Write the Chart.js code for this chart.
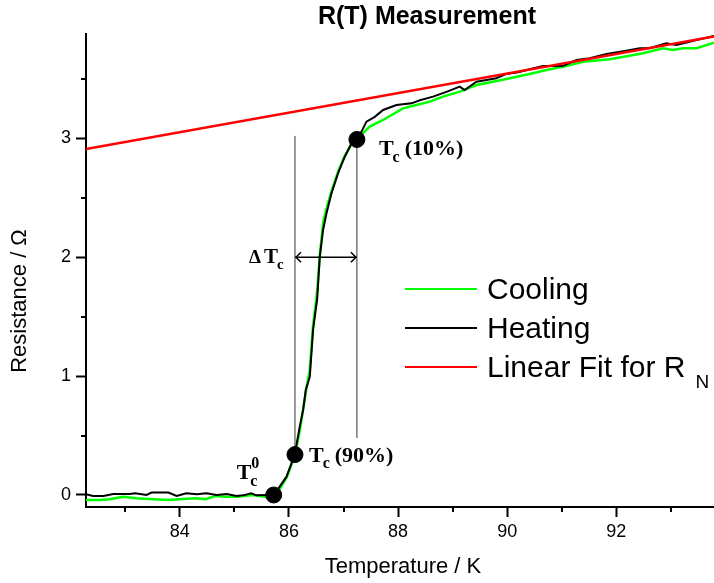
<!DOCTYPE html>
<html>
<head>
<meta charset="utf-8">
<script src="https://cdn.jsdelivr.net/npm/chart.js@4.4.0/dist/chart.umd.min.js"></script>
<style>
  html, body { margin: 0; padding: 0; background: #fff; }
</style>
</head>
<body>
<canvas id="chart" width="714" height="583"></canvas>
<script>
// values (temperature in K, resistance in Ohm)
const heatingT = [82.28, 82.41, 82.6, 82.78, 83.08, 83.18, 83.39, 83.48, 83.79, 83.94, 84.12, 84.31, 84.49, 84.67, 84.86, 85.04, 85.16, 85.31, 85.4, 85.59, 85.72,
  85.83, 85.955, 86.107, 86.186, 86.259, 86.308, 86.382, 86.442, 86.49, 86.516, 86.565, 86.625, 86.688, 86.779, 86.9, 87.023, 87.146, 87.237,
  87.33, 87.42, 87.573, 87.725, 87.97, 88.245, 88.4, 88.64, 88.886, 89.13, 89.22, 89.436, 89.62, 89.8, 89.986, 90.2, 90.41, 90.656, 91.02,
  91.27, 91.51, 91.82, 92.18, 92.43, 92.61, 92.917, 93.1, 93.47, 93.79];
const heatingR = [0.006, -0.008, -0.008, 0.008, 0.008, 0.014, 0, 0.02, 0.02, -0.008, 0.014, 0.006, 0.014, 0, 0.008, -0.008, -0.003, 0.014, -0.003, 0, 0,
  0.07, 0.154, 0.342, 0.547, 0.715, 0.883, 0.995, 1.388, 1.556, 1.64, 2.004, 2.229, 2.369, 2.537, 2.706, 2.845, 2.958, 2.986,
  3.056, 3.14, 3.18, 3.238, 3.28, 3.294, 3.32, 3.35, 3.39, 3.434, 3.406, 3.476, 3.49, 3.505, 3.541, 3.555, 3.58, 3.608, 3.608,
  3.659, 3.673, 3.709, 3.737, 3.757, 3.757, 3.799, 3.785, 3.827, 3.86];

const coolingT = [82.28, 82.53, 82.71, 82.96, 83.2, 83.5, 83.8, 83.98, 84.29, 84.47, 84.65, 84.83, 85.08, 85.32, 85.56, 85.72,
  85.82, 85.96, 86.1, 86.19, 86.26, 86.32, 86.38, 86.44, 86.51, 86.57, 86.63, 86.7, 86.79, 86.9, 87.02, 87.15, 87.25,
  87.33, 87.48, 87.725, 88.09, 88.336, 88.58, 88.824, 89.13, 89.436, 89.74, 90.05, 90.41, 90.78, 91.02, 91.39, 91.88,
  92.06, 92.49, 92.855, 93.04, 93.22, 93.47, 93.79];
const coolingR = [-0.042, -0.042, -0.036, -0.014, -0.028, -0.036, -0.042, -0.036, -0.028, -0.036, -0.008, -0.014, -0.014, 0, -0.014, -0.005,
  0.04, 0.15, 0.32, 0.52, 0.72, 0.9, 1.05, 1.42, 1.68, 2.04, 2.3, 2.43, 2.57, 2.72, 2.85, 2.95, 2.99,
  3.03, 3.098, 3.154, 3.252, 3.28, 3.308, 3.35, 3.392, 3.448, 3.476, 3.505, 3.541, 3.58, 3.602, 3.644, 3.664,
  3.68, 3.715, 3.757, 3.743, 3.757, 3.757, 3.804];

const fitT = [82.28, 93.79];
const fitR = [2.91, 3.857];

// Tc0, Tc(90%), Tc(10%)
const tcT = [85.72, 86.11, 87.245];
const tcR = [0, 0.34, 2.99];

const xTickValues = [84, 86, 88, 90, 92];
const xMinorValues = [83, 85, 87, 89, 91, 93];
const yTickValues = [0, 1, 2, 3];
const yMinorValues = [0.5, 1.5, 2.5, 3.5];

const deltaY = 2.0;

const pts = (xs, ys) => xs.map((x, i) => ({ x: x, y: ys[i] }));

const SANS = '"Liberation Sans", Arial, sans-serif';
const SERIF = '"Liberation Serif", "Times New Roman", serif';

// T with subscript c (and optional superscript) followed by a text
function drawTc(ctx, x, y, size, suffix, sup) {
  ctx.font = 'bold ' + size + 'px ' + SERIF;
  ctx.fillText('T', x, y);
  const w = ctx.measureText('T').width;
  const small = Math.round(size * 0.72);
  ctx.font = 'bold ' + small + 'px ' + SERIF;
  ctx.fillText('c', x + w - 1, y + size * 0.3);
  const wc = ctx.measureText('c').width;
  if (sup) ctx.fillText(sup, x + w, y - size * 0.48);
  if (suffix) {
    ctx.font = 'bold ' + size + 'px ' + SERIF;
    ctx.fillText(suffix, x + w + wc + 4, y);
  }
}

const extras = {
  id: 'extras',
  afterDraw(chart) {
    const { ctx, scales: { x, y } } = chart;
    ctx.save();
    ctx.strokeStyle = '#000';
    ctx.fillStyle = '#000';

    // minor ticks
    ctx.lineWidth = 2;
    ctx.beginPath();
    xMinorValues.forEach(v => {
      const px = Math.round(x.getPixelForValue(v));
      ctx.moveTo(px, x.top);
      ctx.lineTo(px, x.top + 5);
    });
    yMinorValues.forEach(v => {
      const py = Math.round(y.getPixelForValue(v));
      ctx.moveTo(y.right, py);
      ctx.lineTo(y.right - 5, py);
    });
    ctx.stroke();

    // arrow heads of the delta Tc arrow
    const ay = y.getPixelForValue(deltaY);
    const a1 = x.getPixelForValue(tcT[1]);
    const a2 = x.getPixelForValue(tcT[2]);
    ctx.lineWidth = 1.5;
    ctx.beginPath();
    ctx.moveTo(a1 + 6, ay - 5); ctx.lineTo(a1 + 1, ay); ctx.lineTo(a1 + 6, ay + 5);
    ctx.moveTo(a2 - 6, ay - 5); ctx.lineTo(a2 - 1, ay); ctx.lineTo(a2 - 6, ay + 5);
    ctx.stroke();

    // annotations
    ctx.textAlign = 'left';
    ctx.textBaseline = 'alphabetic';
    drawTc(ctx, x.getPixelForValue(tcT[2]) + 22, y.getPixelForValue(tcR[2]) + 16, 22, '(10%)');
    drawTc(ctx, x.getPixelForValue(tcT[1]) + 14, y.getPixelForValue(tcR[1]) + 7, 22, '(90%)');
    drawTc(ctx, x.getPixelForValue(tcT[0]) - 37, y.getPixelForValue(tcR[0]) - 16, 22, '', '0');
    ctx.font = 'bold 19px ' + SERIF;
    ctx.fillText('\u0394', a1 - 46, ay + 6);
    drawTc(ctx, a1 - 31, ay + 6, 21, '');

    // titles
    ctx.textAlign = 'center';
    ctx.font = 'bold 25px ' + SANS;
    ctx.fillText('R(T) Measurement', 427, 24);
    ctx.font = '22px ' + SANS;
    ctx.fillText('Temperature / K', 403, 573);
    ctx.save();
    ctx.translate(26, 301);
    ctx.rotate(-Math.PI / 2);
    ctx.fillText('Resistance / \u03A9', 0, 0);
    ctx.restore();

    // legend
    ctx.textAlign = 'left';
    const items = chart.data.datasets.filter(d => d.inLegend);
    items.forEach((d, i) => {
      const ly = 289 + i * 39;
      ctx.strokeStyle = d.borderColor;
      ctx.lineWidth = 2;
      ctx.beginPath();
      ctx.moveTo(405, ly);
      ctx.lineTo(477, ly);
      ctx.stroke();
      ctx.fillStyle = '#000';
      ctx.font = '30px ' + SANS;
      ctx.fillText(d.label, 487, ly + 10);
      if (d.labelSub) {
        const w = ctx.measureText(d.label).width;
        ctx.font = '19px ' + SANS;
        ctx.fillText(d.labelSub, 487 + w + 10, ly + 21);
      }
    });
    ctx.restore();
  }
};

new Chart(document.getElementById('chart'), {
  type: 'scatter',
  data: {
    datasets: [
      { label: 'Cooling', inLegend: true, data: pts(coolingT, coolingR), showLine: true,
        borderColor: '#00ff00', borderWidth: 2.5, pointRadius: 0, order: 5 },
      { label: 'Heating', inLegend: true, data: pts(heatingT, heatingR), showLine: true,
        borderColor: '#000000', borderWidth: 2, pointRadius: 0, order: 4 },
      { label: 'Linear Fit for R', labelSub: 'N', inLegend: true, data: pts(fitT, fitR), showLine: true,
        borderColor: '#ff0000', borderWidth: 2.5, pointRadius: 0, order: 3 },
      { label: 'Tc90 line', data: [{ x: tcT[1], y: tcR[1] }, { x: tcT[1], y: 3.02 }], showLine: true,
        borderColor: '#333', borderWidth: 1, pointRadius: 0, order: 2 },
      { label: 'Tc10 line', data: [{ x: tcT[2], y: 0.48 }, { x: tcT[2], y: tcR[2] }], showLine: true,
        borderColor: '#333', borderWidth: 1, pointRadius: 0, order: 2 },
      { label: 'delta', data: [{ x: tcT[1], y: deltaY }, { x: tcT[2], y: deltaY }], showLine: true,
        borderColor: '#000', borderWidth: 1.5, pointRadius: 0, order: 2 },
      { label: 'Tc points', data: pts(tcT, tcR), showLine: false,
        pointRadius: 8, backgroundColor: '#000', borderColor: '#000', order: 1 }
    ]
  },
  options: {
    responsive: false,
    animation: false,
    devicePixelRatio: 1,
    layout: { autoPadding: false, padding: { top: 34, right: 0, left: 0, bottom: 0 } },
    plugins: { legend: { display: false }, tooltip: { enabled: false }, title: { display: false } },
    scales: {
      x: {
        type: 'linear',
        min: 82.28,
        max: 93.79,
        afterBuildTicks: s => { s.ticks = xTickValues.map(v => ({ value: v })); },
        afterFit: s => { s.height = 76; s.paddingLeft = 0; s.paddingRight = 0; },
        border: { color: '#000', width: 2 },
        grid: { drawOnChartArea: false, tickLength: 10, tickWidth: 2, tickColor: '#000' },
        ticks: { color: '#000', font: { size: 18, family: SANS }, padding: 4, maxRotation: 0 }
      },
      y: {
        min: -0.101,
        max: 3.877,
        afterBuildTicks: s => { s.ticks = yTickValues.map(v => ({ value: v })); },
        afterFit: s => { s.width = 86; s.paddingTop = 0; s.paddingBottom = 0; },
        border: { color: '#000', width: 2 },
        grid: { drawOnChartArea: false, tickLength: 10, tickWidth: 2, tickColor: '#000' },
        ticks: { color: '#000', font: { size: 18, family: SANS }, padding: 5 }
      }
    }
  },
  plugins: [extras]
});
</script>
</body>
</html>
